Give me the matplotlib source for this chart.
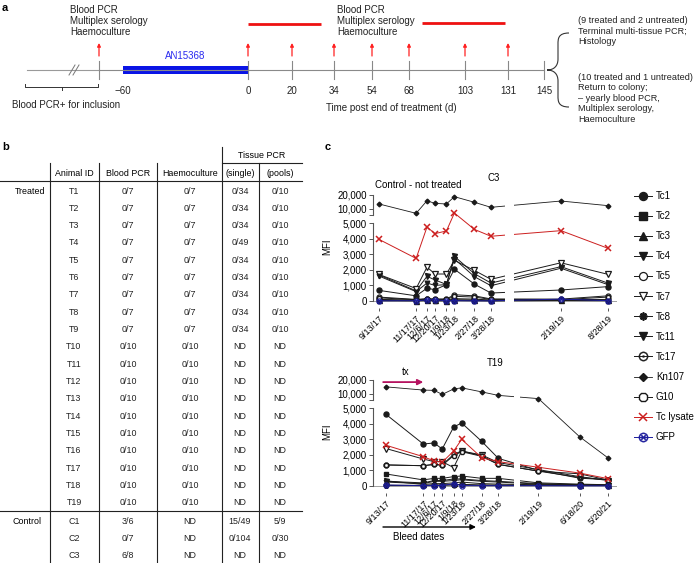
import numpy as np
import pandas as pd
import matplotlib
matplotlib.use('Agg')
import matplotlib.pyplot as plt
from matplotlib.path import Path
from matplotlib.patches import PathPatch

plt.rcParams['font.family'] = ['Liberation Sans', 'DejaVu Sans']

# ------------------------------------------------------------------ data
# panel a: timeline
tl_labels = ['\u221260', '0', '20', '34', '54', '68', '103', '131', '145']
drug_name = 'AN15368'
assay_text = 'Blood PCR\nMultiplex serology\nHaemoculture'
outcome_top = '(9 treated and 2 untreated)\nTerminal multi-tissue PCR;\nHistology'
outcome_bot = ('(10 treated and 1 untreated)\nReturn to colony;\n\u2013 yearly blood PCR,\n'
               'Multiplex serology,\nHaemoculture')

# panel b: table
animal_ids = ['T%d' % i for i in range(1, 20)] + ['C1', 'C2', 'C3']
blood_pcr = ['0/7'] * 9 + ['0/10'] * 10 + ['3/6', '0/7', '6/8']
haemoculture = ['0/7'] * 9 + ['0/10'] * 10 + ['ND', 'ND', 'ND']
tissue_single = ['0/34', '0/34', '0/34', '0/49', '0/34', '0/34', '0/34', '0/34', '0/34'] + ['ND'] * 10 + ['15/49', '0/104', 'ND']
tissue_pools = ['0/10'] * 9 + ['ND'] * 10 + ['5/9', '0/30', 'ND']

# panel c: MFI
c3_dates = ['9/13/17', '11/17/17', '12/6/17', '12/20/17', '1/9/18', '1/23/18', '2/27/18', '3/28/18', '2/19/19', '8/28/19']
t19_dates = ['9/13/17', '11/17/17', '12/6/17', '12/20/17', '1/9/18', '1/23/18', '2/27/18', '3/28/18', '2/19/19', '6/18/20', '5/20/21']

c3_Tc1 = [680, 330, 820, 720, 1050, 2040, 1080, 510, 705, 920]
c3_Tc2 = [40, 20, 40, 30, 20, 50, 40, 20, 60, 30]
c3_Tc3 = [60, 30, 50, 40, 30, 80, 60, 40, 80, 60]
c3_Tc4 = [1670, 650, 1580, 1350, 1060, 2860, 1750, 1150, 2200, 1150]
c3_Tc5 = [250, 100, 150, 130, 130, 400, 330, 130, 120, 330]
c3_Tc7 = [1700, 800, 2170, 1730, 1730, 2600, 1960, 1390, 2450, 1710]
c3_Tc8 = [20, 10, 20, 20, 10, 30, 20, 10, 30, 20]
c3_Tc11 = [1600, 600, 1150, 1000, 1050, 2700, 1560, 980, 2100, 1050]
c3_Tc17 = [100, 60, 100, 80, 60, 150, 120, 60, 90, 100]
c3_Kn107 = [13600, 6900, 15900, 14000, 13600, 18800, 14800, 11200, 15700, 12400]
c3_G10 = [200, 80, 120, 100, 100, 300, 250, 100, 80, 250]
c3_lysate = [3950, 2730, 4740, 4320, 4490, 7100, 4590, 4150, 4510, 3380]
c3_GFP = [10, 20, 60, 80, 10, 20, 10, 10, 120, 20]

t19_Tc1 = [4590, 2690, 2760, 2370, 3780, 4040, 2860, 1770, 1000, 500, 400]
t19_Tc2 = [770, 390, 490, 490, 600, 640, 490, 490, 200, 120, 80]
t19_Tc3 = [330, 100, 150, 150, 200, 250, 150, 120, 80, 50, 40]
t19_Tc4 = [300, 200, 350, 350, 450, 450, 350, 300, 150, 80, 60]
t19_Tc5 = [50, 40, 60, 60, 80, 100, 60, 50, 40, 30, 30]
t19_Tc7 = [2400, 1730, 1560, 1560, 1180, 2240, 1990, 1500, 1050, 600, 350]
t19_Tc8 = [30, 30, 50, 50, 70, 80, 50, 40, 50, 30, 30]
t19_Tc11 = [250, 150, 300, 300, 350, 400, 300, 250, 120, 60, 50]
t19_Tc17 = [1350, 1300, 1390, 1350, 2030, 2240, 1940, 1390, 950, 550, 400]
t19_Kn107 = [15100, 12800, 12600, 9700, 13600, 14400, 11500, 9000, 6700, 3160, 1800]
t19_G10 = [1350, 1300, 1380, 1320, 1950, 2200, 1900, 1380, 950, 780, 380]
t19_lysate = [2610, 1880, 1600, 1520, 2240, 2990, 1810, 1560, 1200, 830, 470]
t19_GFP = [60, 20, 30, 30, 150, 30, 20, 20, 20, 10, 10]

series_names = ['Tc1', 'Tc2', 'Tc3', 'Tc4', 'Tc5', 'Tc7', 'Tc8', 'Tc11', 'Tc17', 'Kn107', 'G10', 'Tc lysate', 'GFP']
c3_values = [c3_Tc1, c3_Tc2, c3_Tc3, c3_Tc4, c3_Tc5, c3_Tc7, c3_Tc8, c3_Tc11, c3_Tc17, c3_Kn107, c3_G10, c3_lysate, c3_GFP]
t19_values = [t19_Tc1, t19_Tc2, t19_Tc3, t19_Tc4, t19_Tc5, t19_Tc7, t19_Tc8, t19_Tc11, t19_Tc17, t19_Kn107, t19_G10, t19_lysate, t19_GFP]
tx_start, tx_end = '9/13/17', '11/17/17'

# ------------------------------------------------------------------ styles
BLK = '#1a1a1a'
RED = '#cc1f1f'
NAVY = '#1c1c9c'
styles = {
    'Tc1': dict(marker='o', mfc=BLK, mec=BLK, ms=3.6),
    'Tc2': dict(marker='s', mfc=BLK, mec=BLK, ms=3.3),
    'Tc3': dict(marker='^', mfc=BLK, mec=BLK, ms=3.6),
    'Tc4': dict(marker='v', mfc=BLK, mec=BLK, ms=3.6),
    'Tc5': dict(marker='o', mfc='white', mec=BLK, ms=3.6, mew=0.9),
    'Tc7': dict(marker='v', mfc='white', mec=BLK, ms=4.0, mew=0.9),
    'Tc8': dict(marker=(8, 2, 0), mfc=BLK, mec=BLK, ms=3.6, mew=1.3),
    'Tc11': dict(marker='v', mfc=BLK, mec=BLK, ms=3.3),
    'Tc17': dict(marker='$\\odot$', mfc=BLK, mec=BLK, ms=4.2, mew=0.3),
    'Kn107': dict(marker='D', mfc=BLK, mec=BLK, ms=2.4),
    'G10': dict(marker='8', mfc='white', mec=BLK, ms=3.6, mew=1.0),
    'Tc lysate': dict(marker='x', mfc=RED, mec=RED, ms=4.0, mew=1.1),
    'GFP': dict(marker='$\\otimes$', mfc=NAVY, mec=NAVY, ms=4.2, mew=0.3),
}
line_colors = {n: BLK for n in series_names}
line_colors['Tc lysate'] = RED
line_colors['GFP'] = NAVY

W, H = 694, 563
fig = plt.figure(figsize=(W / 100, H / 100), dpi=100)
fig.patch.set_facecolor('white')

ov = fig.add_axes([0, 0, 1, 1])
ov.set_xlim(0, W)
ov.set_ylim(H, 0)
ov.axis('off')

FS = 7

# ------------------------------------------------------------------ panel a
tl_px = [123, 248, 292, 334, 372, 409, 465, 508, 544]   # layout positions of ticks
pre_px = 99
y_tl = 70
ov.text(2, 3, 'a', fontsize=8, fontweight='bold', va='top')
ov.plot([27, 99], [y_tl, y_tl], color='#9a9a9a', lw=0.8)
ov.plot([99, tl_px[-1]], [y_tl, y_tl], color='#8a8a8a', lw=0.8)
ov.plot([69, 79], [70, 70], color='white', lw=1.2, zorder=1)
for dx in (0, 4):
    ov.plot([69 + dx, 75 + dx], [75, 65], color='#777', lw=0.7, zorder=2)
ov.plot([pre_px, pre_px], [61, 79], color='#888', lw=0.8)
for x, lab in zip(tl_px, tl_labels):
    if lab != '\u221260':
        ov.plot([x, x], [61, 79], color='#888', lw=0.8)
    ov.text(x, 91, lab, fontsize=FS, ha='center', va='center', color='#222')
ov.add_patch(plt.Rectangle((tl_px[0], 66), tl_px[1] - tl_px[0], 8, color='#0a14e6', lw=0))
ov.text((tl_px[0] + tl_px[1]) / 2, 56, drug_name, color='#2a2af0', fontsize=FS, ha='center', va='center')
arrow_x = [pre_px] + tl_px[1:8]
for x in arrow_x:
    ov.annotate('', xy=(x, 43), xytext=(x, 56),
                arrowprops=dict(arrowstyle='-|>', color='#ff2020', lw=0.9, mutation_scale=5, shrinkA=0, shrinkB=0))
ov.plot([248, 321], [24, 24], color='#ee1111', lw=2.0, solid_capstyle='butt')
ov.plot([422, 505], [23, 23], color='#ee1111', lw=2.0, solid_capstyle='butt')
ov.text(70, 5, assay_text, fontsize=FS, va='top', ha='left', linespacing=1.15, color='#222')
ov.text(337, 5, assay_text, fontsize=FS, va='top', ha='left', linespacing=1.15, color='#222')
# inclusion bracket
ov.plot([25, 25, 98, 98], [84, 87, 87, 84], color='#333', lw=0.7)
ov.plot([62, 62], [87, 90], color='#333', lw=0.7)
ov.text(12, 105, 'Blood PCR+ for inclusion', fontsize=FS, va='center', color='#222')
ov.text(326, 108, 'Time post end of treatment (d)', fontsize=FS, va='center', color='#222')
# curly brace
xt, xm, xe, yt, yb, ym = 547, 558, 569, 33, 107, 70
verts = [(xe, yt), (xm, yt), (xm, yt + 6), (xm, yt + 11),
         (xm, ym - 11),
         (xm, ym - 4), (xm - 4, ym), (xt, ym),
         (xm - 4, ym), (xm, ym + 4), (xm, ym + 11),
         (xm, yb - 11),
         (xm, yb - 6), (xm, yb), (xe, yb)]
codes = [Path.MOVETO, Path.CURVE4, Path.CURVE4, Path.CURVE4,
         Path.LINETO,
         Path.CURVE4, Path.CURVE4, Path.CURVE4,
         Path.CURVE4, Path.CURVE4, Path.CURVE4,
         Path.LINETO,
         Path.CURVE4, Path.CURVE4, Path.CURVE4]
ov.add_patch(PathPatch(Path(verts, codes), fc='none', ec='#333', lw=0.8))
ov.text(578, 16, outcome_top, fontsize=6.6, va='top', linespacing=1.2, color='#222')
ov.text(578, 73, outcome_bot, fontsize=6.6, va='top', linespacing=1.2, color='#222')

# ------------------------------------------------------------------ panel b
TFS = 6.4
ov.text(2, 142, 'b', fontsize=8, fontweight='bold', va='top')
col_x = [74, 128, 190, 240, 280]
ov.text(262, 155, 'Tissue PCR', fontsize=TFS, ha='center', va='center')
for x, lab in zip(col_x, ['Animal ID', 'Blood PCR', 'Haemoculture', '(single)', '(pools)']):
    ov.text(x, 173, lab, fontsize=TFS, ha='center', va='center')
ov.plot([222, 302], [163, 163], color='#222', lw=0.8)
ov.plot([0, 302], [181, 181], color='#222', lw=0.8)
ov.plot([0, 302], [511, 511], color='#222', lw=0.8)
for x, y0 in [(50, 163), (99, 163), (157, 163), (222, 147), (259, 163)]:
    ov.plot([x, x], [y0, H], color='#222', lw=0.8)
for i, aid in enumerate(animal_ids):
    if aid.startswith('T'):
        y = 191 + i * 17.33
    else:
        y = 521 + (i - 19) * 17.5
    for x, val in zip(col_x, [aid, blood_pcr[i], haemoculture[i], tissue_single[i], tissue_pools[i]]):
        ov.text(x, y, val, fontsize=TFS, ha='center', va='center', color='#222')
ov.text(30, 191, 'Treated', fontsize=TFS, ha='center', va='center')
ov.text(27, 521, 'Control', fontsize=TFS, ha='center', va='center')

# ------------------------------------------------------------------ panel c
ov.text(325, 142, 'c', fontsize=8, fontweight='bold', va='top')

start = pd.Timestamp('2017-09-13')


def to_days(lst):
    return (pd.to_datetime(pd.Series(lst), format='%m/%d/%y') - start).dt.days.to_numpy()


def piecewise(nin, nout):
    nin = np.asarray(nin, float)
    nout = np.asarray(nout, float)
    return (lambda v: np.interp(v, nin, nout), lambda v: np.interp(v, nout, nin))


yin = [-1e5, 0, 5000, 5700, 1e6]
yout = [-1560, 0, 78, 86, 86 + (1e6 - 5700) * 0.0014]
yticks = [0, 1000, 2000, 3000, 4000, 5000, 5700, 10000, 20000]
ytlabels = ['0', '1,000', '2,000', '3,000', '4,000', '5,000', '', '10,000', '20,000']


def chart(rect, dates, values, xin, xout, xlim, gap):
    l, t, r, b = rect
    ax = fig.add_axes([l / W, 1 - b / H, (r - l) / W, (b - t) / H])
    ax.patch.set_alpha(0)
    ax.set_xscale('function', functions=piecewise(xin, xout))
    ax.set_yscale('function', functions=piecewise(yin, yout))
    days = to_days(dates)
    ax.axhline(0, color='#a0a0a0', lw=0.7, zorder=1)
    handles = []
    for name, vals in zip(series_names, values):
        st = dict(styles[name])
        h, = ax.plot(days, vals, color=line_colors[name], lw=0.7 if name != 'Kn107' else 0.6,
                     zorder=3 if name in ('Tc lysate',) else 2, label=name, **st)
        handles.append(h)
    ax.axvspan(gap[0], gap[1], color='white', lw=0, zorder=6)
    ax.set_xlim(*xlim)
    ax.set_ylim(-450, 21000)
    for s in ('top', 'right', 'bottom'):
        ax.spines[s].set_visible(False)
    ax.spines['left'].set_bounds(0, 5000)
    ax.spines['left'].set_color('#555')
    ax.spines['left'].set_linewidth(0.8)
    ax.plot([0, 0], [5700, 20000], transform=ax.get_yaxis_transform(), color='#555', lw=0.8,
            clip_on=False, zorder=7)
    ax.set_yticks(yticks)
    ax.set_yticklabels(ytlabels)
    ax.yaxis.set_minor_locator(matplotlib.ticker.NullLocator())
    ax.xaxis.set_minor_locator(matplotlib.ticker.NullLocator())
    ax.tick_params(axis='y', length=3, width=0.7, color='#555', labelsize=7, pad=1.5)
    ax.set_xticks(days)
    ax.set_xticklabels(dates, rotation=45, ha='right', va='top', rotation_mode='anchor')
    ax.tick_params(axis='x', length=2.5, width=0.7, color='#555', labelsize=6.5, pad=1.5)
    return ax, handles


# top chart (C3)
ax1, handles = chart((373, 193.6, 617, 308), c3_dates, c3_values,
                     [-1000, 220, 334, 10000],
                     [379 - 571.4, 379 + 0.5714 * 220, 561 - 0.247 * 190, 561 + 0.247 * 9476],
                     (-10.5, 751), (221, 333))
# bottom chart (T19)
ax2, _ = chart((373, 378.6, 617, 493), t19_dates, t19_values,
               [-1000, 224, 311, 10000],
               [386 - 571.4, 386 + 0.5714 * 224, 538 - 0.0845 * 213, 538 + 0.0845 * 9476],
               (-22.75, 1451), (225, 310))

ov.text(494, 178, 'C3', fontsize=FS, ha='center', va='center')
ov.text(375, 185, 'Control - not treated', fontsize=FS, ha='left', va='center')
ov.text(495, 363, 'T19', fontsize=FS, ha='center', va='center')
ov.text(327, 247, 'MFI', fontsize=FS, rotation=90, ha='center', va='center')
ov.text(327, 432, 'MFI', fontsize=FS, rotation=90, ha='center', va='center')

txd = to_days([tx_start, tx_end])
ax2.annotate('', xy=(txd[1], 18500), xytext=(txd[0] - 5, 18500),
             arrowprops=dict(arrowstyle='-|>', color='#b5125f', lw=1.3, mutation_scale=8,
                             shrinkA=0, shrinkB=0), annotation_clip=False)
ov.text(406, 372, 'tx', fontsize=FS, ha='center', va='center')
ov.annotate('', xy=(476, 527), xytext=(383, 527),
            arrowprops=dict(arrowstyle='-|>', color='black', lw=1.0, mutation_scale=8, shrinkA=0, shrinkB=0))
ov.text(393, 537, 'Bleed dates', fontsize=FS, ha='left', va='center')

fig.legend(handles=handles, labels=series_names, loc='upper left',
           bbox_to_anchor=(634 / W, 1 - 191 / H), frameon=False, fontsize=7,
           markerscale=1.6, handlelength=1.8, handletextpad=0.45, labelspacing=1.04,
           borderpad=0, borderaxespad=0)

fig.savefig('out.png', dpi=100, facecolor='white')
